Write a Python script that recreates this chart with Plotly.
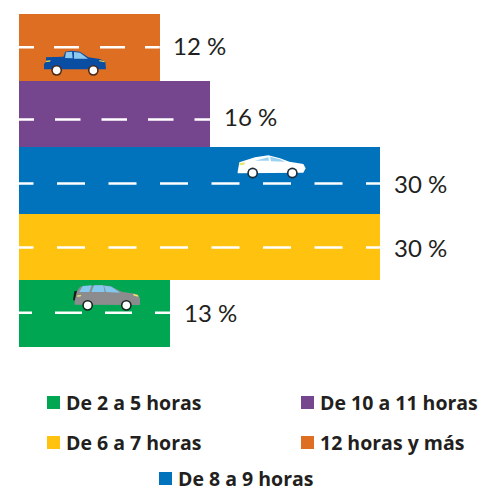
import plotly.graph_objects as go

# Data (bottom to top)
categories = ["De 2 a 5 horas", "De 6 a 7 horas", "De 8 a 9 horas", "De 10 a 11 horas", "12 horas y más"]
values = [12.55, 30, 30, 15.9, 11.7]
labels = ["13 %", "30 %", "30 %", "16 %", "12 %"]
colors = ["#00A651", "#FFC20E", "#0073BC", "#75468D", "#DE6E22"]

W, H = 481, 487
FONT = "Lato, Carlito, Calibri, sans-serif"
LEGEND_FONT = "'Open Sans', sans-serif"
TEXT = "#231F20"
PX_PER_Y = (347 - 14) / 5

# Road-marking style for each bar (px dash patterns and vertical nudges)
dash_patterns = [
    "13px,23px,27px,23px,27px,23px,27px,23px,27px",
    "14.5px,23.5px,28px,23.5px,28px,23.5px,28px,23.5px,28px,23.5px,28px,23.5px,28px,23.5px,28px",
    "14.5px,23.5px,28px,23.5px,28px,23.5px,28px,23.5px,28px,23.5px,28px,23.5px,28px,23.5px,28px",
    "15px,21px,25.5px,21px,25.5px,21px,25.5px,21px,25.5px",
    "15px,20px,25px,21px,25px,20px,25px",
]
dash_px = [-1, 0.5, 3, 5.5, 0]
label_shift = [1.5, -0.5, -3, -2.5, 1.5]

fig = go.Figure()
fig.add_trace(go.Bar(x=values, y=list(range(5)), orientation="h", width=1,
                     marker=dict(color=colors, line=dict(width=0)),
                     hovertext=categories, showlegend=False))

for i, v in enumerate(values):
    yy = i - dash_px[i] / PX_PER_Y
    fig.add_trace(go.Scatter(x=[0, v], y=[yy, yy], mode="lines", showlegend=False,
                             line=dict(color="white", width=2.5, dash=dash_patterns[i])))
    fig.add_annotation(x=v, y=i, xref="x", yref="y", text=labels[i], showarrow=False,
                       xanchor="left", xshift=11.5, yshift=label_shift[i],
                       font=dict(family=FONT, size=24, color=TEXT))

shapes = []

def px(x): return x / W
def py(y): return 1 - y / H

def poly(pts, color, sx=3, ox=0, oy=0):
    d = ""
    for j, (a, b) in enumerate(pts):
        d += ("M" if j == 0 else "L") + f"{px(ox + a / sx):.5f},{py(oy + b / sx):.5f} "
    shapes.append(dict(type="path", path=d + "Z", xref="paper", yref="paper",
                       fillcolor=color, line=dict(width=0)))

def disc(cx, cy, r, color):
    shapes.append(dict(type="circle", xref="paper", yref="paper",
                       x0=px(cx - r), x1=px(cx + r), y0=py(cy + r), y1=py(cy - r),
                       fillcolor=color, line=dict(width=0)))

def wheel(cx, cy, rim):
    disc(cx, cy, 5.4, rim)
    disc(cx, cy, 3.8, "white")

# Pickup on the orange bar
poly([(138,172),(190,170),(196,155),(215,152),(240,155),(265,172),(300,177),(316,185),(318,208),
      (132,208),(132,192),(138,185)], "#0A4EA3")
poly([(195,174),(198,157),(216,155),(218,175)], "#8FC8EE")
poly([(222,176),(222,156),(240,158),(264,176)], "#8FC8EE")
poly([(298,180),(314,184),(314,187),(298,184)], "#F2D64B")
poly([(138,182),(152,181),(150,185),(138,186)], "#F2D64B")
wheel(170/3, 211/3, "#4A2A1A")
wheel(280/3, 211/3, "#4A2A1A")

# White sedan on the blue bar
poly([(113,125),(118,97),(165,82),(205,76),(240,85),(268,95),(310,102),(317,115),(310,128),(113,130)],
     "white", ox=200, oy=130)
poly([(165,92),(205,82),(207,92)], "#9AD3F2", ox=200, oy=130)
poly([(210,80),(240,88),(255,95),(213,94)], "#9AD3F2", ox=200, oy=130)
poly([(118,100),(135,97),(133,104),(119,106)], "#E8E56A", ox=200, oy=130)
wheel(200 + 158/3, 130 + 129/3, "#1C2B3A")
wheel(200 + 277/3, 130 + 129/3, "#1C2B3A")

# Grey SUV on the green bar
poly([(224,104),(224,75),(240,50),(300,45),(330,48),(365,65),(410,72),(420,85),(420,105)],
     "#8C8C8F", oy=270)
poly([(238,66),(248,48),(275,46),(268,66)], "#85C8EE", oy=270)
poly([(274,66),(282,46),(310,46),(314,66)], "#85C8EE", oy=270)
poly([(318,66),(312,47),(335,50),(360,68)], "#85C8EE", oy=270)
poly([(219,90),(223,64),(231,62),(224,92)], "#1A1A1A", oy=270)
poly([(398,71),(414,75),(416,80),(402,77)], "#E8E56A", oy=270)
poly([(232,76),(244,75),(243,79),(232,81)], "#E8E56A", oy=270)
wheel(263/3, 270 + 106/3, "#16261E")
wheel(379/3, 270 + 106/3, "#16261E")

# Legend, laid out as in the original: two columns and a centred last row
legend_pos = [(47, 402.5), (47, 442.5), (159, 478.5), (301, 402.5), (301, 442.5)]
for i, (lx, ly) in enumerate(legend_pos):
    shapes.append(dict(type="rect", xref="paper", yref="paper",
                       x0=px(lx), x1=px(lx + 13), y0=py(ly + 6.5), y1=py(ly - 6.5),
                       fillcolor=colors[i], line=dict(width=0)))
    fig.add_annotation(x=px(lx + 17), y=py(ly), xref="paper", yref="paper", text=f"<b>{categories[i]}</b>",
                       showarrow=False, xanchor="left", yanchor="middle",
                       font=dict(family=LEGEND_FONT, size=19.5, color=TEXT))

fig.update_layout(
    width=W, height=H, autosize=False,
    margin=dict(l=0, r=0, t=0, b=0, pad=0),
    paper_bgcolor="white", plot_bgcolor="white",
    bargap=0, showlegend=False, shapes=shapes,
    xaxis=dict(domain=[19 / W, 380 / W], range=[0, 30], visible=False, fixedrange=True),
    yaxis=dict(domain=[1 - 347 / H, 1 - 14 / H], range=[-0.5, 4.5], visible=False, fixedrange=True),
)
fig.write_html("out.html", config={"displayModeBar": False},
               post_script="document.body.style.margin='0';")
